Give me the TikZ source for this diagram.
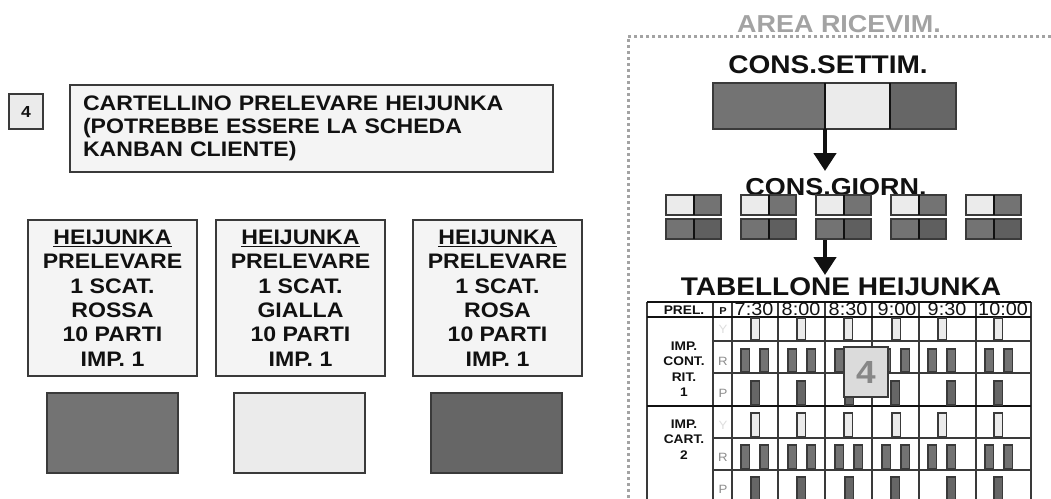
\documentclass[tikz,border=0pt]{standalone}
\usepackage{fontspec}
\setmainfont{Liberation Sans}[FakeStretch=1.1]
\usetikzlibrary{arrows.meta}
\definecolor{cred}{HTML}{737373}
\definecolor{cyel}{HTML}{EBEBEB}
\definecolor{cpink}{HTML}{666666}
\definecolor{cpinkb}{HTML}{5F5F5F}
\definecolor{cardfill}{HTML}{F4F4F4}
\definecolor{edge}{HTML}{3A3A3A}
\definecolor{txt}{HTML}{111111}
\definecolor{dotc}{HTML}{A3A3A3}
\tikzset{
  box/.style={draw=edge, line width=1.3pt, anchor=north west, inner sep=0pt, outer sep=0pt},
  card/.style={box, fill=cardfill, minimum width=169, minimum height=156, align=center, text=txt,
     font=\bfseries\fontsize{21}{24.4}\selectfont},
  swatch/.style={box, minimum width=131, minimum height=80},
  cell/.style={box, minimum width=27.5, minimum height=20},
  big/.style={font=\bfseries\fontsize{25.5}{25.5}\selectfont, text=txt, inner sep=0pt},
  flow/.style={-{Triangle[width=22pt,length=18pt]}, line width=4.5pt, txt},
  grid/.style={draw=edge, line width=1.2pt},
  bary/.style={draw=edge, line width=1.2pt, fill=cyel},
  barr/.style={draw=edge, line width=1.2pt, fill=cred},
  barp/.style={draw=edge, line width=1.2pt, fill=cpink},
  time/.style={font=\fontsize{18}{18}\selectfont, text=txt, inner sep=0pt, anchor=base},
  rowlab/.style={font=\bfseries\fontsize{12.5}{15.5}\selectfont, align=center, text=txt, inner sep=0pt},
  lett/.style={font=\fontsize{12}{12}\selectfont, inner sep=0pt}
}
\begin{document}
\begin{tikzpicture}[x=1pt,y=-1pt]
\useasboundingbox (0,0) rectangle (1051,498);
\fill[white] (0,0) rectangle (1051,498);

% left part
\node[box, fill=cyel, minimum width=34, minimum height=35, font=\bfseries\fontsize{16}{16}\selectfont, text=txt] (num) at (9,94) {4};
\node[box, fill=cardfill, minimum width=483, minimum height=87, text width=457, inner xsep=13pt, align=left,
      font=\bfseries\fontsize{21}{23}\selectfont, text=txt] (title) at (70,85)
      {CARTELLINO PRELEVARE HEIJUNKA\\(POTREBBE ESSERE LA SCHEDA\\KANBAN CLIENTE)};

\node[card] (card1) at (28,220) {\underline{HEIJUNKA}\\PRELEVARE\\1 SCAT.\\ROSSA\\10 PARTI\\IMP. 1};
\node[card] (card2) at (216,220) {\underline{HEIJUNKA}\\PRELEVARE\\1 SCAT.\\GIALLA\\10 PARTI\\IMP. 1};
\node[card] (card3) at (413,220) {\underline{HEIJUNKA}\\PRELEVARE\\1 SCAT.\\ROSA\\10 PARTI\\IMP. 1};

\node[swatch, fill=cred] (sw1) at (47,393) {};
\node[swatch, fill=cyel] (sw2) at (234,393) {};
\node[swatch, fill=cpink] (sw3) at (431,393) {};

% receiving area
\node[font=\bfseries\fontsize{24.5}{24.5}\selectfont, text=dotc, inner sep=0pt] (area) at (839,24) {AREA RICEVIM.};
\coordinate (dA) at (1051,36);
\coordinate (dB) at (628,36);
\coordinate (dC) at (628,498);
\draw[dotc, line width=3pt, dash pattern=on 3pt off 3pt] (dA) -- (dB) -- (dC);

\node[big] (settim) at (828,65) {CONS.SETTIM.};
\node[box, fill=cred, minimum width=112, minimum height=46] (w1) at (713,83) {};
\node[box, fill=cyel, minimum width=65, minimum height=46] (w2) at (825,83) {};
\node[box, fill=cpink, minimum width=66, minimum height=46] (w3) at (890,83) {};
\draw[txt, line width=2.2pt] (w2.north west) -- (w2.south west);
\draw[txt, line width=2.2pt] (w3.north west) -- (w3.south west);

\node[big, font=\bfseries\fontsize{24.5}{24.5}\selectfont] (giorn) at (836,187) {CONS.GIORN.};
\coordinate (a1s) at (825,129);
\coordinate (a1e) at (825,171);
\draw[flow] (a1s) -- (a1e);

\foreach \i in {0,...,4}{
  \pgfmathsetmacro\xa{666+75*\i}
  \pgfmathsetmacro\xb{\xa+27.5}
  \node[cell, fill=cyel] (da\i) at (\xa,195) {};
  \node[cell, fill=cred] (db\i) at (\xb,195) {};
  \node[cell, fill=cred] (dc\i) at (\xa,219) {};
  \node[cell, fill=cpinkb] (dd\i) at (\xb,219) {};
  \draw[txt, line width=2pt] (db\i.north west) -- (db\i.south west);
  \draw[txt, line width=2pt] (dd\i.north west) -- (dd\i.south west);
}
\coordinate (a2s) at (825,240);
\coordinate (a2e) at (825,275);
\draw[flow] (a2s) -- (a2e);

\node[big] (tab) at (841,287) {TABELLONE HEIJUNKA};

% heijunka board grid
\foreach \x in {647,713,732,778,825,872,919,976,1031}
  \draw[grid] (\x,302) -- (\x,499);
\draw[grid, draw=txt] (647,302) -- (1031,302);
\draw[grid, draw=txt] (647,317) -- (1031,317);
\foreach \y in {341,373,438,470}
  \draw[grid] (713,\y) -- (1031,\y);
\draw[txt, line width=2pt] (647,405.5) -- (1031,405.5);

% header
\node[font=\bfseries\fontsize{12.5}{12.5}\selectfont, text=txt, inner sep=0pt] (prel) at (684,311) {\underline{PREL.}};
\node[font=\bfseries\fontsize{10}{10}\selectfont, text=txt, inner sep=0pt] (hp) at (723,311) {P};
\node[time] (t1) at (754,315.5) {7:30};
\node[time] (t2) at (801,315.5) {8:00};
\node[time] (t3) at (848,315.5) {8:30};
\node[time] (t4) at (897,315.5) {9:00};
\node[time] (t5) at (947,315.5) {9:30};
\node[time] (t6) at (1003,315.5) {10:00};

% row labels
\node[rowlab] (imp1) at (684,369) {IMP.\\CONT.\\RIT.\\1};
\node[rowlab] (imp2) at (684,439.5) {IMP.\\CART.\\2};
\node[lett, text=black!13] (y1) at (723,329) {Y};
\node[lett, text=black!45] (r1) at (723,361) {R};
\node[lett, text=black!45] (p1) at (723,393) {P};
\node[lett, text=black!13] (y2) at (723,425) {Y};
\node[lett, text=black!45] (r2) at (723,457) {R};
\node[lett, text=black!45] (p2) at (723,489) {P};

% bars
\foreach \yx/\rxa/\rxb/\px in {751/741/760/751, 797/788/807/797, 844/835/854/845, 892/882/901/891, 938/928/947/947, 994/985/1004/994}{
  \draw[bary] (\yx,318) rectangle ++(8.5,22);
  \draw[barr] (\rxa,349) rectangle ++(8.5,23);
  \draw[barr] (\rxb,349) rectangle ++(8.5,23);
  \draw[barp] (\px,381) rectangle ++(8.5,24);
  \draw[bary] (\yx,413) rectangle ++(8.5,24);
  \draw[barr] (\rxa,445) rectangle ++(8.5,24);
  \draw[barr] (\rxb,445) rectangle ++(8.5,24);
  \draw[barp] (\px,477) rectangle ++(8.5,24);
}

% kanban card on board
\node[box, fill=black!14, minimum width=44, minimum height=50, text=black!47,
      font=\bfseries\fontsize{32}{32}\selectfont] (k4) at (844,347) {4};
\end{tikzpicture}
\end{document}
